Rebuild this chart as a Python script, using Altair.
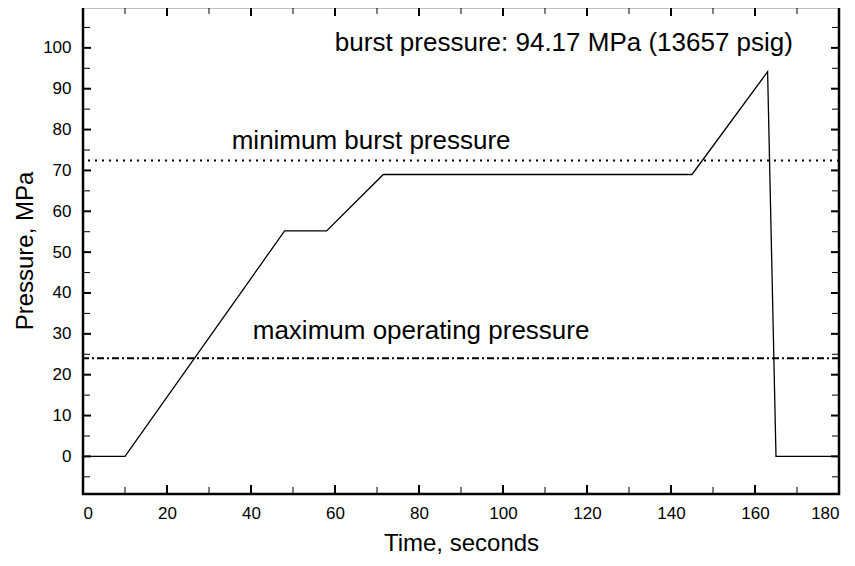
import altair as alt
import pandas as pd

# ---- data ----
time_s = [0, 10, 48, 58, 71.5, 145, 163, 165, 180]
pressure_mpa = [0, 0, 55.2, 55.2, 69, 69, 94.17, 0, 0]

min_burst = [72.4]
max_operating = [24.0]

x_major = list(range(0, 181, 20))
x_minor = list(range(10, 180, 20))
y_major = list(range(0, 111, 10))
y_minor = list(range(-5, 110, 10))
y_labels = list(range(0, 101, 10))

note_text = ["burst pressure: 94.17 MPa (13657 psig)",
             "minimum burst pressure",
             "maximum operating pressure"]
note_x = [114.5, 68.6, 80.5]
note_y = [99.3, 75.2, 28.7]

FONT = "Liberation Sans"
W, H = 756, 487

xs = alt.Scale(domain=[0, 180], nice=False, zero=False)
ys = alt.Scale(domain=[-9.2, 110], nice=False, zero=False)

line_df = pd.DataFrame({"t": time_s, "p": pressure_mpa})

x_axis = alt.Axis(values=x_major, ticks=False, domain=False, grid=False,
                  labelFont=FONT, labelFontSize=17, labelColor="black",
                  labelPadding=11, title="Time, seconds", titleFont=FONT,
                  titleFontSize=24, titleFontWeight="normal", titleColor="black",
                  titleBaseline="alphabetic", titleY=56)
y_axis = alt.Axis(values=y_labels, ticks=False, domain=False, grid=False,
                  labelFont=FONT, labelFontSize=17, labelColor="black",
                  labelPadding=12, title="Pressure, MPa", titleFont=FONT,
                  titleFontSize=24, titleFontWeight="normal", titleColor="black",
                  titleBaseline="alphabetic", titleX=-51)

main = alt.Chart(line_df).mark_line(color="black", strokeWidth=1.3).encode(
    x=alt.X("t:Q", scale=xs, axis=x_axis),
    y=alt.Y("p:Q", scale=ys, axis=y_axis),
)

dotted = alt.Chart(pd.DataFrame({"v": min_burst})).mark_rule(
    color="black", strokeWidth=2, strokeDash=[2, 5]
).encode(y=alt.Y("v:Q", scale=ys))

dashdot = alt.Chart(pd.DataFrame({"v": max_operating})).mark_rule(
    color="black", strokeWidth=2, strokeDash=[7, 3, 2, 3]
).encode(y=alt.Y("v:Q", scale=ys))

def xticks(vals, length, width):
    d = pd.DataFrame({"v": vals})
    bot = alt.Chart(d).mark_rule(color="black", strokeWidth=width).encode(
        x=alt.X("v:Q", scale=xs), y=alt.value(H), y2=alt.value(H - length))
    top = alt.Chart(d).mark_rule(color="black", strokeWidth=width).encode(
        x=alt.X("v:Q", scale=xs), y=alt.value(0), y2=alt.value(length))
    return [bot, top]

def yticks(vals, length, width):
    d = pd.DataFrame({"v": vals})
    left = alt.Chart(d).mark_rule(color="black", strokeWidth=width).encode(
        y=alt.Y("v:Q", scale=ys), x=alt.value(0), x2=alt.value(length))
    right = alt.Chart(d).mark_rule(color="black", strokeWidth=width).encode(
        y=alt.Y("v:Q", scale=ys), x=alt.value(W), x2=alt.value(W - length))
    return [left, right]

ticks = (xticks(x_major, 9, 2) + xticks(x_minor, 7, 1)
         + yticks(y_major, 8, 2) + yticks(y_minor, 7, 1))

notes = alt.Chart(pd.DataFrame({"x": note_x, "y": note_y, "s": note_text})).mark_text(
    font=FONT, fontSize=26, color="black", align="center", baseline="alphabetic"
).encode(
    x=alt.X("x:Q", scale=xs),
    y=alt.Y("y:Q", scale=ys),
    text="s:N",
)

chart = alt.layer(dotted, dashdot, main, *ticks, notes).properties(
    width=W, height=H,
    autosize=alt.AutoSizeParams(type="none"),
    padding={"left": 75, "top": -1, "right": 4, "bottom": 62},
    background="white",
).configure_view(stroke="black", strokeWidth=2.5)

chart.save("out.html", embed_options={"renderer": "svg", "actions": False})
